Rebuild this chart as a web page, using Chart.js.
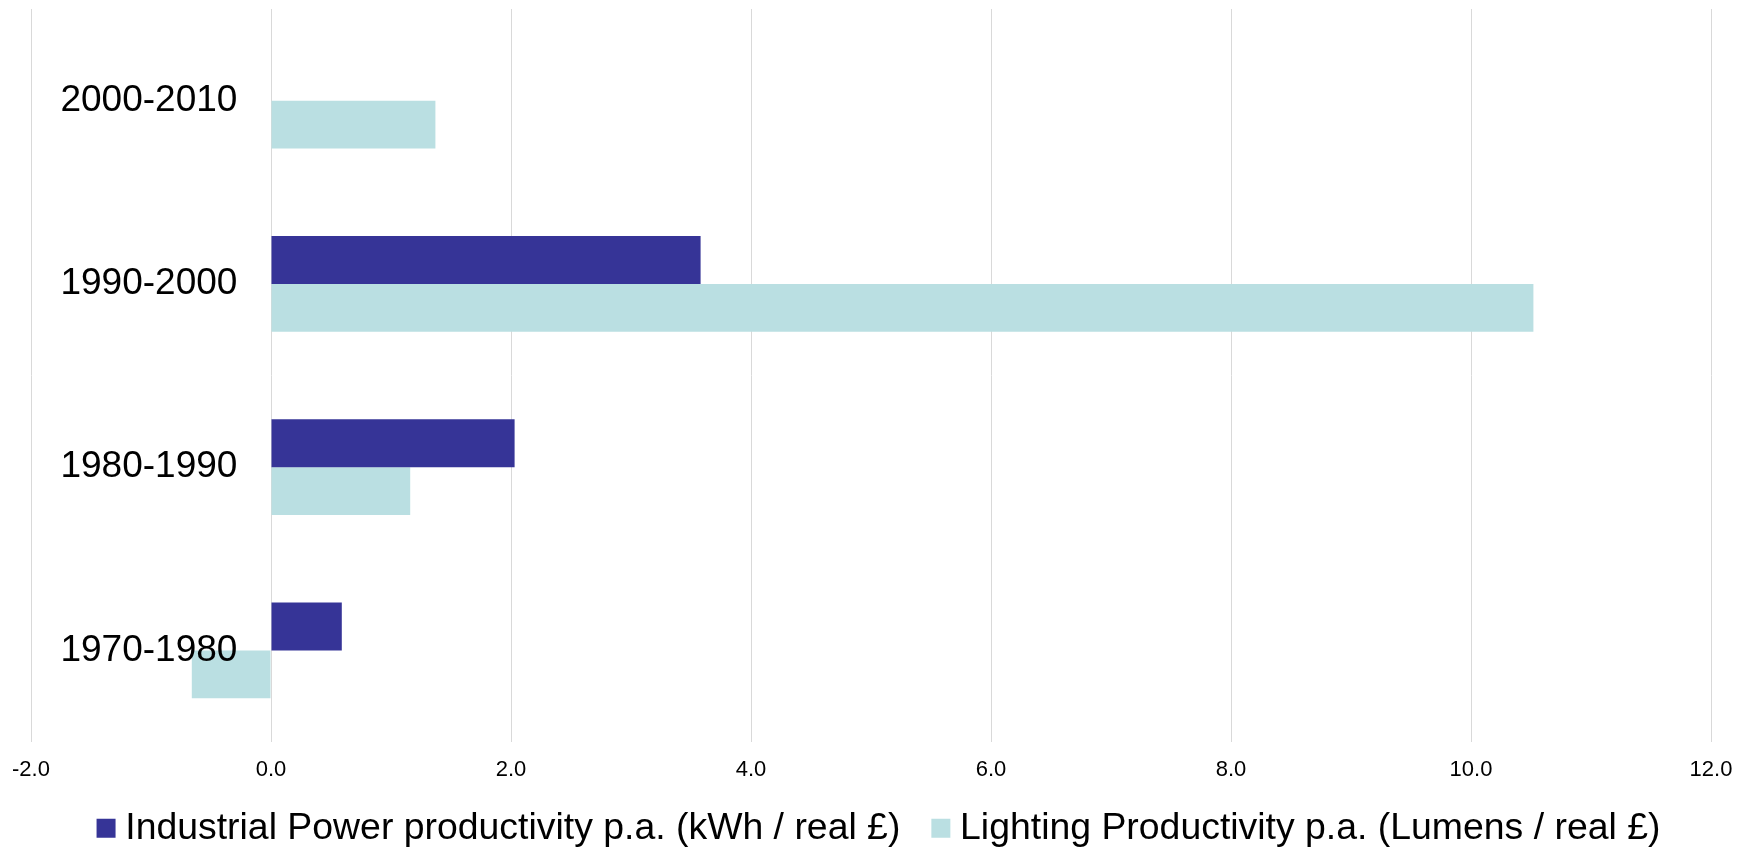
<!DOCTYPE html>
<html>
<head>
<meta charset="utf-8">
<title>Productivity growth by decade</title>
<script src="https://cdn.jsdelivr.net/npm/chart.js@4/dist/chart.umd.min.js"></script>
<style>
  html, body { margin: 0; padding: 0; background: #ffffff; }
  #wrap { width: 1750px; height: 848px; position: relative; }
</style>
</head>
<body>
<div id="wrap"><canvas id="chart"></canvas></div>
<script>
// Decades, listed top to bottom
const periods = ['2000-2010', '1990-2000', '1980-1990', '1970-1980'];

// Average annual productivity change per decade
const industrialPower = [null, 3.58, 2.03, 0.59];
const lightingProductivity = [1.37, 10.52, 1.16, -0.66];

const seriesNames = [
  'Industrial Power productivity p.a. (kWh / real £)',
  'Lighting Productivity p.a. (Lumens / real £)'
];

// Value axis range
const axisMin = -2;
const axisMax = 12;
const axisStep = 2;

// Category labels hang just left of the zero line, at this x value
const labelAnchor = -0.28;

const FONT = "'Liberation Sans', Arial, sans-serif";

// Nudges the legend row sideways so it sits centred under the plot
const legendNudge = {
  id: 'legendNudge',
  afterLayout(chart, args, opts) {
    const lg = chart.legend;
    if (lg) {
      lg.left += opts.dx || 0;
      lg.right += opts.dx || 0;
    }
  }
};

new Chart(document.getElementById('chart'), {
  type: 'bar',
  data: {
    labels: periods,
    datasets: [
      {
        label: seriesNames[0],
        data: industrialPower,
        backgroundColor: '#363497',
        borderWidth: 0
      },
      {
        label: seriesNames[1],
        data: lightingProductivity,
        backgroundColor: '#BADFE2',
        borderWidth: 0
      }
    ]
  },
  options: {
    indexAxis: 'y',
    responsive: true,
    maintainAspectRatio: false,
    animation: false,
    devicePixelRatio: 1,
    datasets: {
      bar: { categoryPercentage: 0.523, barPercentage: 1.0 }
    },
    layout: {
      padding: { top: 9, left: 31, right: 39, bottom: 0 }
    },
    scales: {
      x: {
        min: axisMin,
        max: axisMax,
        border: { display: false },
        grid: {
          color: '#d9d9d9',
          lineWidth: 1,
          drawTicks: false
        },
        ticks: {
          stepSize: axisStep,
          // mirrored so the labels are not clipped to the short axis box;
          // the negative padding puts them back below the plot
          mirror: true,
          padding: -41,
          color: '#000000',
          font: { family: FONT, size: 22 },
          maxRotation: 0,
          callback: (v) => Number(v).toFixed(1)
        },
        afterFit: (scale) => { scale.height = 27.5; }
      },
      y: {
        position: { x: labelAnchor },
        border: { display: false },
        grid: { display: false, drawTicks: false },
        ticks: {
          z: 1,
          padding: 0,
          color: '#000000',
          font: { family: FONT, size: 37 }
        },
        afterFit: (scale) => {
          scale.paddingTop = 0;
          scale.paddingBottom = 0;
        }
      }
    },
    plugins: {
      legendNudge: { dx: 12 },
      legend: {
        position: 'bottom',
        maxHeight: 78.5,
        labels: {
          usePointStyle: true,
          pointStyle: 'rect',
          boxWidth: 1,
          boxHeight: 19,
          padding: 40,
          color: '#000000',
          font: { family: FONT, size: 37.4 }
        }
      },
      tooltip: { enabled: false }
    }
  },
  plugins: [legendNudge]
});
</script>
</body>
</html>
